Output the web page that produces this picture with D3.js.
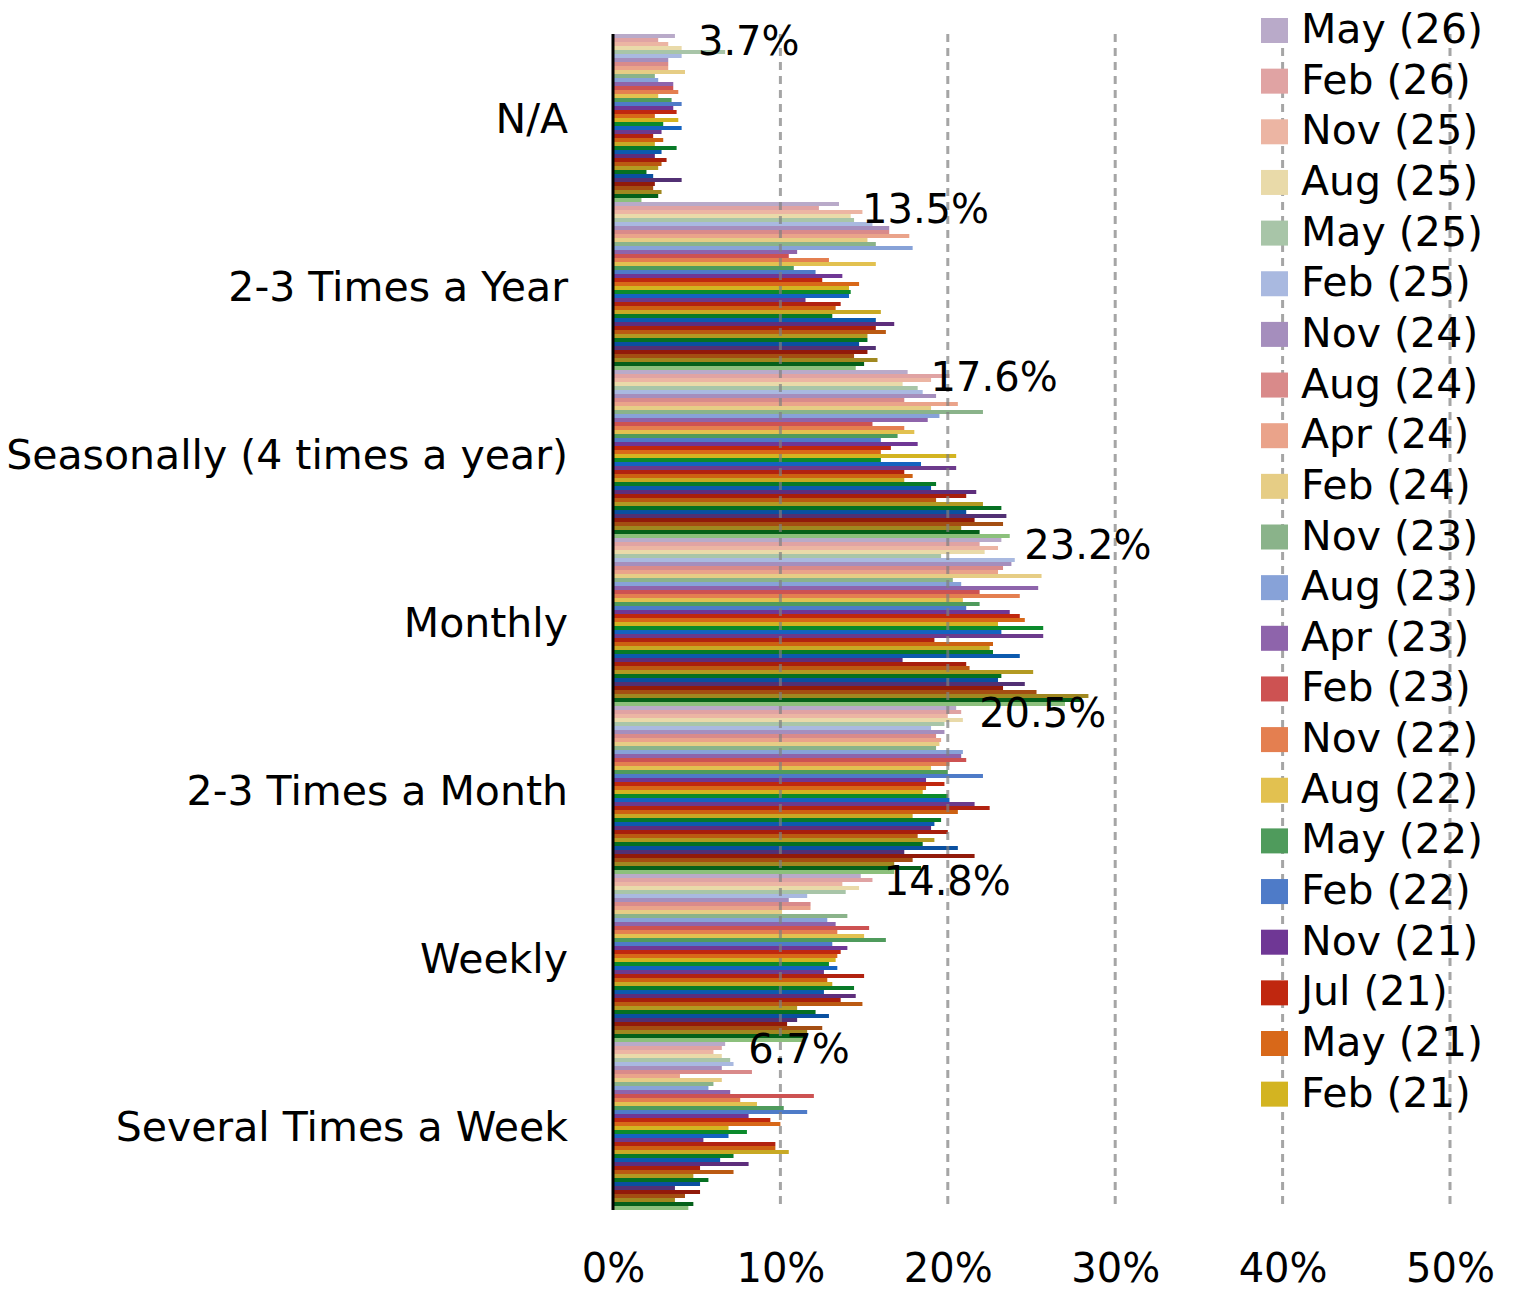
<!DOCTYPE html>
<html lang="en">
<head>
    <meta charset="UTF-8">
    <title>Frequency by survey wave</title>
    <script src="https://d3js.org/d3.v7.min.js"></script>
    <style>
        body { margin: 0; background: #fff; }
        text { font-family: "DejaVu Sans", Verdana, sans-serif; fill: #000; }
    </style>
</head>
<body>
<svg width="1517" height="1291"></svg>

<script>
    // categories top to bottom
    const categories = ["N/A", "2-3 Times a Year", "Seasonally (4 times a year)", "Monthly",
        "2-3 Times a Month", "Weekly", "Several Times a Week"];

    // survey waves, newest first (the legend only has room for the first 22)
    const waves = ["May (26)", "Feb (26)", "Nov (25)", "Aug (25)", "May (25)", "Feb (25)",
        "Nov (24)", "Aug (24)", "Apr (24)", "Feb (24)", "Nov (23)", "Aug (23)", "Apr (23)",
        "Feb (23)", "Nov (22)", "Aug (22)", "May (22)", "Feb (22)", "Nov (21)", "Jul (21)",
        "May (21)", "Feb (21)", "Nov (20)", "Aug (20)", "May (20)", "Feb (20)", "Nov (19)",
        "Aug (19)", "May (19)", "Feb (19)", "Nov (18)", "Aug (18)", "May (18)", "Feb (18)",
        "Nov (17)", "Aug (17)", "May (17)", "Feb (17)", "Nov (16)", "Aug (16)", "May (16)", "Feb (16)"];

    const waveColors = ["#b9aac9", "#e0a3a3", "#ecb5a3", "#e9daa9", "#a8c5a8", "#a9b9e0",
        "#a58ebd", "#d98a8a", "#eaa38a", "#e6cd85", "#8ab38a", "#87a2d8", "#8e64ab",
        "#cd5252", "#e47f50", "#e2c150", "#4f9b5c", "#4e7bc8", "#6f3795", "#c0270f",
        "#d86819", "#d3b421", "#0b8a2b", "#1463c0", "#6c3a8c", "#b22210", "#cd6112",
        "#c8a924", "#087a28", "#0c5aae", "#5e2e7c", "#a81e0c", "#bb5a12", "#b39a22",
        "#067022", "#0a50a0", "#523074", "#921a0a", "#a44e12", "#a08820", "#05601a", "#8cc07c"];

    // percent per wave (same order as waves)
    const naValues = [3.7, 2.7, 3.3, 4.1, 6.7, 4.1, 3.3, 3.3, 3.3, 4.3, 2.5, 2.7, 3.6, 3.6,
        3.9, 2.7, 3.5, 4.1, 3.6, 3.8, 2.5, 3.9, 3.0, 4.1, 2.9, 2.4, 3.0, 2.5, 3.8, 2.9,
        2.5, 3.2, 2.9, 2.7, 2.0, 2.4, 4.1, 2.5, 2.4, 2.9, 2.7, 1.7];
    const yearValues = [13.5, 12.3, 14.9, 14.2, 14.4, 15.5, 16.5, 16.5, 17.7, 15.2, 15.7,
        17.9, 11.0, 10.5, 12.9, 15.7, 10.8, 12.1, 13.7, 12.5, 14.7, 14.1, 14.2, 14.1, 11.5,
        13.6, 13.3, 16.0, 13.1, 15.7, 16.8, 15.7, 16.3, 15.2, 15.2, 14.7, 15.7, 15.2, 14.4,
        15.8, 15.0, 14.5];
    const seasonValues = [17.6, 20.1, 19.0, 17.3, 18.2, 18.5, 19.3, 17.4, 20.6, 19.0, 22.1,
        19.5, 18.8, 15.5, 17.4, 18.0, 17.0, 16.0, 18.2, 16.6, 16.0, 20.5, 16.0, 18.4, 20.5,
        17.4, 17.9, 17.4, 19.3, 19.0, 21.7, 21.1, 19.3, 22.1, 23.2, 21.1, 23.5, 21.6, 23.3,
        20.8, 21.9, 23.7];
    const monthlyValues = [23.2, 21.9, 23.0, 22.2, 19.6, 24.0, 23.8, 23.3, 23.0, 25.6, 20.3,
        20.8, 25.4, 21.9, 24.3, 20.9, 21.9, 21.1, 23.7, 24.3, 24.6, 23.0, 25.7, 23.2, 25.7,
        19.2, 22.7, 22.5, 22.7, 24.3, 17.3, 21.1, 21.3, 25.1, 23.2, 23.0, 24.6, 23.3, 25.3,
        28.4, 28.0, 27.0];
    const twiceMonthValues = [20.5, 20.8, 20.0, 20.9, 19.8, 19.0, 19.8, 19.3, 19.6, 19.5,
        19.3, 20.9, 20.8, 21.1, 20.1, 19.0, 20.0, 22.1, 18.7, 19.8, 18.7, 18.5, 20.0, 20.1,
        21.6, 22.5, 20.6, 17.9, 19.6, 19.2, 19.0, 20.0, 18.2, 19.2, 18.5, 20.6, 17.4, 21.6,
        17.9, 16.8, 18.4, 16.8];
    const weeklyValues = [14.8, 15.5, 13.7, 14.7, 13.9, 11.6, 10.5, 11.8, 11.8, 10.1, 14.0,
        12.8, 13.3, 15.3, 13.4, 15.0, 16.3, 13.1, 14.0, 13.6, 13.4, 13.3, 12.9, 13.4, 12.6,
        15.0, 12.8, 13.1, 14.4, 12.6, 14.5, 13.6, 14.9, 11.0, 12.1, 12.9, 11.0, 10.4, 12.5,
        11.6, 11.6, 11.4];
    const severalValues = [6.7, 6.5, 6.0, 6.5, 7.0, 7.2, 6.5, 8.3, 4.0, 6.5, 6.0, 5.7, 7.0,
        12.0, 7.6, 8.6, 10.2, 11.6, 8.1, 9.4, 10.0, 6.9, 8.0, 6.9, 5.4, 9.7, 9.7, 10.5,
        7.2, 6.4, 8.1, 5.2, 7.2, 4.8, 5.7, 5.2, 3.7, 5.2, 4.3, 3.7, 4.8, 4.5];

    const xTicks = [0, 10, 20, 30, 40, 50];

    const valueTable = [naValues, yearValues, seasonValues, monthlyValues,
        twiceMonthValues, weeklyValues, severalValues];

    const svg = d3.select("svg");

    const x = d3.scaleLinear().domain([0, 50]).range([613, 1450]);
    const y = d3.scaleBand().domain(categories).range([34, 1210]).padding(0);
    const yInner = d3.scaleBand().domain(waves).range([0, y.bandwidth()]).padding(0);

    // bars
    const groups = svg.append("g").attr("class", "bars")
        .selectAll("g")
        .data(categories)
        .enter()
        .append("g")
        .attr("transform", d => "translate(0," + y(d) + ")");

    groups.selectAll("rect")
        .data((d, i) => waves.map((w, j) => ({wave: w, value: valueTable[i][j], k: j})))
        .enter()
        .append("rect")
        .attr("x", x(0))
        .attr("y", d => yInner(d.wave))
        .attr("width", d => x(d.value) - x(0))
        .attr("height", yInner.bandwidth())
        .attr("fill", d => waveColors[d.k]);

    // dashed gridlines sit over the bars
    svg.append("g").attr("class", "grid")
        .selectAll("line")
        .data(xTicks.slice(1))
        .enter()
        .append("line")
        .attr("x1", d => x(d)).attr("x2", d => x(d))
        .attr("y1", 34).attr("y2", 1210)
        .attr("stroke", "#7f7f7f")
        .attr("stroke-opacity", 0.7)
        .attr("stroke-width", 3)
        .attr("stroke-dasharray", "8,6");

    // category axis line
    svg.append("line")
        .attr("x1", x(0)).attr("x2", x(0))
        .attr("y1", 34).attr("y2", 1210)
        .attr("stroke", "#000")
        .attr("stroke-width", 3);

    // category labels
    svg.append("g")
        .selectAll("text")
        .data(categories)
        .enter()
        .append("text")
        .attr("x", 568)
        .attr("y", d => y(d) + y.bandwidth() / 2 + 15)
        .attr("text-anchor", "end")
        .style("font-size", "41px")
        .text(d => d);

    // value axis
    const xAxis = svg.append("g")
        .attr("transform", "translate(0,1210)")
        .call(d3.axisBottom(x).tickValues(xTicks).tickSize(0)
            .tickFormat(d => d + "%"));
    xAxis.select(".domain").remove();
    xAxis.selectAll("text")
        .attr("y", 72)
        .attr("dy", null)
        .style("font-size", "40px")
        .style("font-family", "\"DejaVu Sans\", Verdana, sans-serif")
        .attr("fill", "#000");

    // data labels for the newest wave
    svg.append("g")
        .selectAll("text")
        .data(categories)
        .enter()
        .append("text")
        .attr("x", (d, i) => x(valueTable[i][0]) + 23)
        .attr("y", d => y(d) + yInner(waves[0]) + yInner.bandwidth() / 2 + 19)
        .style("font-size", "40px")
        .text((d, i) => valueTable[i][0].toFixed(1) + "%");

    // legend (clipped after 22 entries, as in the original)
    const legendShown = waves.slice(0, 22);
    const legend = svg.append("g").attr("class", "legend")
        .selectAll("g")
        .data(legendShown)
        .enter()
        .append("g")
        .attr("transform", (d, i) => "translate(1261," + (18 + i * 50.65) + ")");

    legend.append("rect")
        .attr("width", 27)
        .attr("height", 25)
        .attr("fill", (d, i) => waveColors[i]);

    legend.append("text")
        .attr("x", 40)
        .attr("y", 25)
        .style("font-size", "41px")
        .text(d => d);
</script>
</body>
</html>
